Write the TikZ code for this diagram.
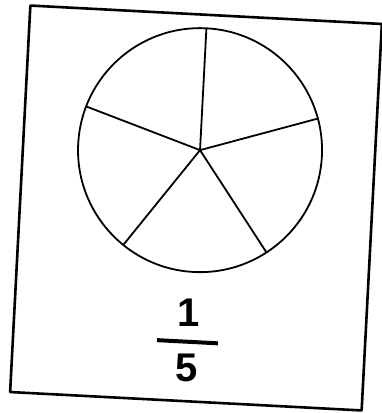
\documentclass[tikz,border=0pt]{standalone}
\usepackage{fontspec}
\setmainfont{Liberation Sans}
\usetikzlibrary{positioning,calc}

\begin{document}
\begin{tikzpicture}[
  x=1pt, y=1pt,
  card/.style={draw, line width=2.6pt, line join=round},
  wheel/.style={draw, line width=1.8pt},
  spoke/.style={line width=1.8pt},
  digit/.style={inner sep=0pt, font=\bfseries\fontsize{40}{40}\selectfont},
  bar/.style={line width=4pt},
]
\useasboundingbox (0,0) rectangle (381,-413);
\begin{scope}[shift={(196,-208)}, rotate=-3]
  % card outline
  \draw[card] (-176,-193.5) rectangle (176,193.5);
  % the pie, cut into five
  \coordinate (c) at (1,58);
  \draw[wheel] (c) circle (122);
  \foreach \a in {90,162,234,306,18}
    \draw[spoke] (c) -- ($(c)+(\a:122)$);
  % fraction
  \node[digit] (num) at (-1.5,-105) {1};
  \node[digit] (den) at (-0.6,-160) {5};
  \coordinate (barl) at (-32,-134);
  \coordinate (barr) at (29,-134);
  \draw[bar] (barl) -- (barr);
\end{scope}
\end{tikzpicture}
\end{document}
